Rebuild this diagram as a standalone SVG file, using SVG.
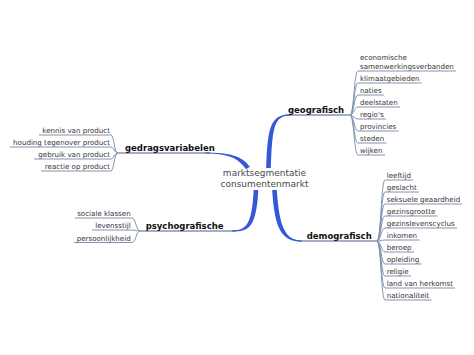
<svg xmlns="http://www.w3.org/2000/svg" width="474" height="355" viewBox="0 0 474 355">
<style>
text{font-family:"DejaVu Sans","Liberation Sans",sans-serif}
.c{font-size:7.1px;fill:#333}
.m{font-size:8.5px;font-weight:bold;fill:#111}
.ctr{font-size:9px;fill:#4a4a4a}
.ln{fill:none;stroke:#8393b3;stroke-width:1}
.ul{fill:none;stroke:#4c5d8f;stroke-width:1.1}
.br{fill:#3458d6}
</style>
<rect width="474" height="355" fill="#fff"/>
<g id="connectors">
<path class="br" d="M266.2,168 C267.6,127 270.5,114.4 290,114.4 L290,115.6 C273.5,115.6 272.4,129 270.8,168 Z"/>
<path class="ul" d="M285,115 H350"/>
<path class="br" d="M272.2,190 C274.6,229 281.5,241.6 302,241.6 L302,240.4 C285,240.4 279.4,227 276.8,190 Z"/>
<path class="ul" d="M298,241 H377"/>
<path class="br" d="M258.3,190 C256.3,227 249.5,231.6 232,231.6 L232,230.4 C246.5,230.4 251.7,225 253.7,190 Z"/>
<path class="ul" d="M236,231 H140"/>
<path class="br" d="M249.9,166.7 C241.9,156 230.5,152.4 205,152.4 L205,153.6 C229.5,153.6 238.1,158.6 246.1,169.3 Z"/>
<path class="ul" d="M210,153 H118"/>
<path class="ln" d="M118,153 C114,153 114,135 111,135 H39"/>
<path class="ln" d="M118,153 C114,153 114,147 111,147 H10"/>
<path class="ln" d="M118,153 C114,153 114,159 111,159 H34"/>
<path class="ln" d="M118,153 C114,153 114,171 111,171 H41"/>
<path class="ln" d="M140,231 C136,231 136,218 132,218 H75"/>
<path class="ln" d="M140,231 C136,231 136,230 132,230 H92"/>
<path class="ln" d="M140,231 C136,231 136,242.5 132,242.5 H74"/>
<path class="ln" d="M350,115 C354,115 354,71 358,71 H456"/>
<path class="ln" d="M350,115 C354,115 354,83 358,83 H421.5"/>
<path class="ln" d="M350,115 C354,115 354,95 358,95 H384"/>
<path class="ln" d="M350,115 C354,115 354,107 358,107 H400"/>
<path class="ln" d="M350,115 C354,115 354,119 358,119 H386"/>
<path class="ln" d="M350,115 C354,115 354,131 358,131 H398.5"/>
<path class="ln" d="M350,115 C354,115 354,143 358,143 H386.5"/>
<path class="ln" d="M350,115 C354,115 354,155 358,155 H385"/>
<path class="ln" d="M377,241 C381,241 381,180 385,180 H413"/>
<path class="ln" d="M377,241 C381,241 381,192 385,192 H419"/>
<path class="ln" d="M377,241 C381,241 381,204 385,204 H462"/>
<path class="ln" d="M377,241 C381,241 381,216 385,216 H437.5"/>
<path class="ln" d="M377,241 C381,241 381,228 385,228 H457"/>
<path class="ln" d="M377,241 C381,241 381,240 385,240 H419.5"/>
<path class="ln" d="M377,241 C381,241 381,252 385,252 H414"/>
<path class="ln" d="M377,241 C381,241 381,264 385,264 H421.5"/>
<path class="ln" d="M377,241 C381,241 381,276 385,276 H411"/>
<path class="ln" d="M377,241 C381,241 381,288 385,288 H455"/>
<path class="ln" d="M377,241 C381,241 381,300 385,300 H431.5"/>
</g>
<g id="center">
<text class="ctr" x="264.5" y="176" text-anchor="middle">marktsegmentatie</text>
<text class="ctr" x="264.5" y="186.5" text-anchor="middle">consumentenmarkt</text>
</g>
<g id="gedragsvariabelen">
<text class="m" x="125" y="150.5">gedragsvariabelen</text>
<text class="c" x="110" y="133.2" text-anchor="end">kennis van product</text>
<text class="c" x="110" y="145.2" text-anchor="end">houding tegenover product</text>
<text class="c" x="110" y="157.2" text-anchor="end">gebruik van product</text>
<text class="c" x="110" y="169.2" text-anchor="end">reactie op product</text>
</g>
<g id="psychografische">
<text class="m" x="145.7" y="228.5">psychografische</text>
<text class="c" x="130.7" y="216.2" text-anchor="end">sociale klassen</text>
<text class="c" x="130.7" y="228.2" text-anchor="end">levensstijl</text>
<text class="c" x="130.7" y="240.7" text-anchor="end">persoonlijkheid</text>
</g>
<g id="geografisch">
<text class="m" x="288" y="112.5">geografisch</text>
<text class="c" x="360" y="60">economische</text>
<text class="c" x="360" y="69.3">samenwerkingsverbanden</text>
<text class="c" x="360" y="81.2">klimaatgebieden</text>
<text class="c" x="360" y="93.2">naties</text>
<text class="c" x="360" y="105.2">deelstaten</text>
<text class="c" x="360" y="117.2">regio's</text>
<text class="c" x="360" y="129.2">provincies</text>
<text class="c" x="360" y="141.2">steden</text>
<text class="c" x="360" y="153.2">wijken</text>
</g>
<g id="demografisch">
<text class="m" x="306.7" y="238.5">demografisch</text>
<text class="c" x="386.7" y="178.2">leeftijd</text>
<text class="c" x="386.7" y="190.2">geslacht</text>
<text class="c" x="386.7" y="202.2">seksuele geaardheid</text>
<text class="c" x="386.7" y="214.2">gezinsgrootte</text>
<text class="c" x="386.7" y="226.2">gezinslevenscyclus</text>
<text class="c" x="386.7" y="238.2">inkomen</text>
<text class="c" x="386.7" y="250.2">beroep</text>
<text class="c" x="386.7" y="262.2">opleiding</text>
<text class="c" x="386.7" y="274.2">religie</text>
<text class="c" x="386.7" y="286.2">land van herkomst</text>
<text class="c" x="386.7" y="298.2">nationaliteit</text>
</g>
</svg>
